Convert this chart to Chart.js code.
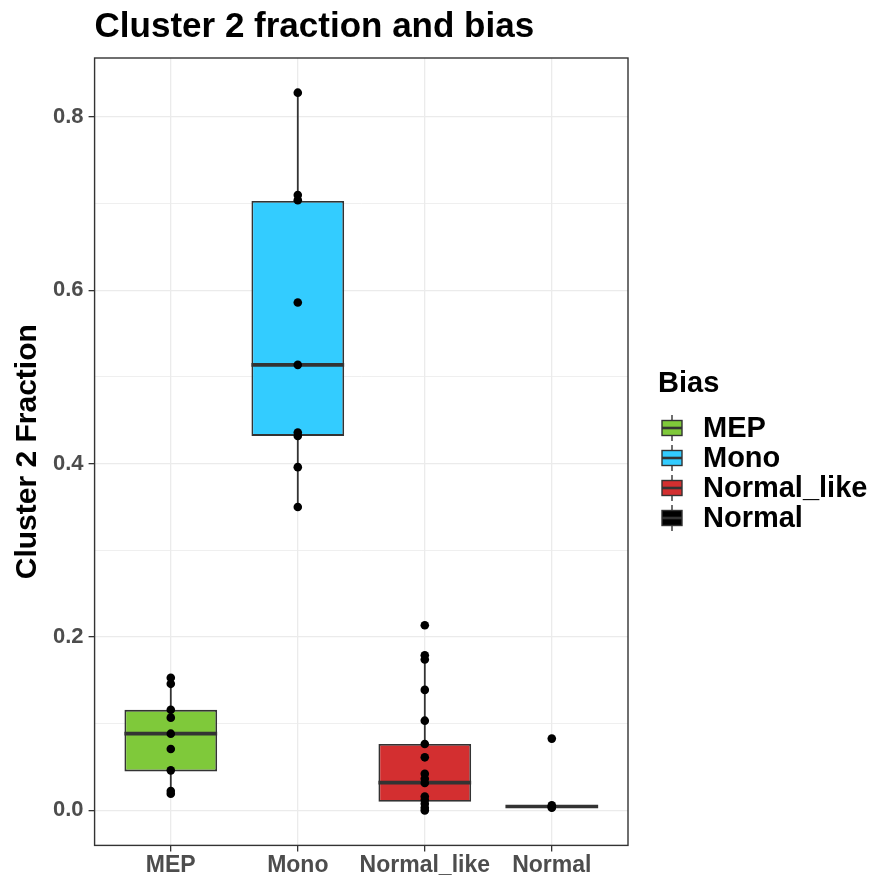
<!DOCTYPE html>
<html lang="en">
<head>
<meta charset="utf-8" />
<title>Cluster 2 fraction and bias</title>
<style>
    html, body { margin: 0; padding: 0; background: #fff; }
    .plot { width: 886px; height: 884px; }
</style>
</head>
<body>
<div class="plot">
    <canvas id="boxchart"></canvas>
</div>
<script src="https://cdn.jsdelivr.net/npm/chart.js@4.4.1/dist/chart.umd.min.js"></script>
<script>
    // groups on the x axis
    const categories = ['MEP', 'Mono', 'Normal_like', 'Normal'];
    const fills = ['#7FC93A', '#33CCFF', '#D32F30', '#000000'];

    // box statistics
    const whiskerLo = [0.019, 0.350, 0.000, 0.003];
    const q1 = [0.045, 0.432, 0.010, 0.0045];
    const median = [0.0885, 0.514, 0.032, 0.0045];
    const q3 = [0.116, 0.703, 0.0767, 0.0045];
    const whiskerHi = [0.153, 0.828, 0.179, 0.006];

    // the single points per group
    const mepPoints = [0.153, 0.146, 0.116, 0.107, 0.0885, 0.0708, 0.0462, 0.0223, 0.0192];
    const monoPoints = [0.828, 0.710, 0.704, 0.586, 0.514, 0.436, 0.432, 0.396, 0.350];
    const normalLikePoints = [0.2136, 0.179, 0.174, 0.139, 0.1035, 0.0766, 0.0612, 0.0423, 0.0365,
        0.0316, 0.016, 0.012, 0.0077, 0.003, 0.0];
    const normalPoints = [0.0828, 0.006, 0.004, 0.003];

    const yTicks = [0.0, 0.2, 0.4, 0.6, 0.8];

    const FONT = "'Liberation Sans', Arial, Helvetica, sans-serif";
    const EDGE = '#333333';

    const pointGroups = [mepPoints, monoPoints, normalLikePoints, normalPoints];
    const scatterData = [];
    pointGroups.forEach((arr, i) => {
        arr.forEach(v => scatterData.push({ x: i + 1, y: v }));
    });

    const boxData = categories.map((c, i) => ({ x: i + 1, y: [q1[i], q3[i]] }));

    const isMajor = v => yTicks.some(t => Math.abs(t - v) < 1e-6);

    const boxPlugin = {
        id: 'boxExtras',
        beforeDatasetsDraw(chart) {
            // whiskers go under the boxes
            const ctx = chart.ctx, x = chart.scales.x, y = chart.scales.y;
            ctx.save();
            ctx.strokeStyle = EDGE;
            ctx.lineWidth = 1.8;
            categories.forEach((c, i) => {
                const px = x.getPixelForValue(i + 1);
                ctx.beginPath();
                ctx.moveTo(px, y.getPixelForValue(whiskerLo[i]));
                ctx.lineTo(px, y.getPixelForValue(whiskerHi[i]));
                ctx.stroke();
            });
            ctx.restore();
        },
        afterDatasetDraw(chart, args) {
            if (args.index !== 0) return;
            const ctx = chart.ctx, y = chart.scales.y;
            const meta = chart.getDatasetMeta(0);
            ctx.save();
            ctx.strokeStyle = EDGE;
            ctx.lineWidth = 3.6;
            meta.data.forEach((bar, i) => {
                const py = y.getPixelForValue(median[i]);
                ctx.beginPath();
                ctx.moveTo(bar.x - bar.width / 2, py);
                ctx.lineTo(bar.x + bar.width / 2, py);
                ctx.stroke();
            });
            ctx.restore();
        },
        afterDraw(chart) {
            const ctx = chart.ctx, a = chart.chartArea;
            ctx.save();
            // panel border
            ctx.strokeStyle = EDGE;
            ctx.lineWidth = 1.4;
            ctx.strokeRect(a.left, a.top, a.right - a.left, a.bottom - a.top);

            // legend
            ctx.fillStyle = '#000';
            ctx.font = 'bold 29px ' + FONT;
            ctx.textBaseline = 'middle';
            ctx.textAlign = 'left';
            ctx.fillText('Bias', 658, 384);
            categories.forEach((c, i) => {
                const cy = 428 + i * 30;
                const kx = 672;
                ctx.strokeStyle = EDGE;
                ctx.lineWidth = 1.4;
                ctx.beginPath();
                ctx.moveTo(kx, cy - 13);
                ctx.lineTo(kx, cy + 13);
                ctx.stroke();
                ctx.fillStyle = fills[i];
                ctx.fillRect(kx - 10, cy - 7.5, 20, 15);
                ctx.strokeRect(kx - 10, cy - 7.5, 20, 15);
                ctx.lineWidth = 2.6;
                ctx.beginPath();
                ctx.moveTo(kx - 10, cy);
                ctx.lineTo(kx + 10, cy);
                ctx.stroke();
                ctx.fillStyle = '#000';
                ctx.fillText(c, 703, cy + 1);
            });
            ctx.restore();
        }
    };

    new Chart(document.getElementById('boxchart'), {
        type: 'bar',
        data: {
            datasets: [{
                label: 'box',
                data: boxData,
                backgroundColor: fills,
                borderColor: EDGE,
                borderWidth: 1.8,
                borderSkipped: false,
                barPercentage: 0.73,
                categoryPercentage: 1,
                order: 1
            }, {
                type: 'scatter',
                label: 'points',
                data: scatterData,
                pointRadius: 4.3,
                pointBackgroundColor: '#000',
                pointBorderWidth: 0,
                order: 0
            }]
        },
        options: {
            responsive: true,
            maintainAspectRatio: false,
            animation: false,
            layout: { padding: { left: 0, right: 258, top: 0, bottom: 5 } },
            plugins: {
                legend: { display: false },
                tooltip: { enabled: false },
                title: {
                    display: true,
                    text: 'Cluster 2 fraction and bias',
                    align: 'start',
                    fullSize: false,
                    color: '#000',
                    font: { family: FONT, size: 35, weight: 'bold' },
                    padding: { top: 6, bottom: 10 }
                }
            },
            scales: {
                x: {
                    type: 'linear',
                    min: 0.4,
                    max: 4.6,
                    offset: false,
                    border: { display: false },
                    grid: {
                        offset: false,
                        color: '#EBEBEB',
                        lineWidth: 1.3,
                        tickColor: EDGE,
                        tickLength: 6
                    },
                    ticks: {
                        stepSize: 1,
                        includeBounds: false,
                        autoSkip: false,
                        maxRotation: 0,
                        padding: 0,
                        color: '#4D4D4D',
                        font: { family: FONT, size: 23, weight: 'bold' },
                        callback: v => categories[v - 1] || ''
                    }
                },
                y: {
                    min: -0.0404,
                    max: 0.868,
                    border: { display: false },
                    grid: {
                        color: '#EBEBEB',
                        lineWidth: c => isMajor(c.tick.value) ? 1.3 : 0.8,
                        tickColor: c => isMajor(c.tick.value) ? EDGE : 'rgba(0,0,0,0)',
                        tickLength: 6
                    },
                    ticks: {
                        stepSize: 0.1,
                        includeBounds: false,
                        autoSkip: false,
                        padding: 5,
                        color: '#4D4D4D',
                        font: { family: FONT, size: 22, weight: 'bold' },
                        callback: v => isMajor(v) ? v.toFixed(1) : ''
                    },
                    title: {
                        display: true,
                        text: 'Cluster 2 Fraction',
                        color: '#000',
                        font: { family: FONT, size: 30, weight: 'bold' },
                        padding: { top: 10, bottom: 2 }
                    }
                }
            }
        },
        plugins: [boxPlugin]
    });
</script>
</body>
</html>
